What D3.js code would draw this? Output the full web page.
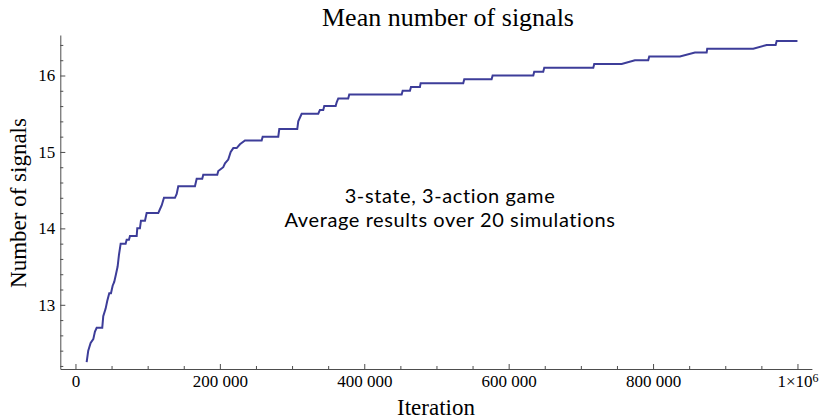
<!DOCTYPE html>
<html>
<head>
<meta charset="utf-8">
<script src="https://cdn.jsdelivr.net/npm/d3@7"></script>
<style>
  html, body { margin: 0; padding: 0; background: #fff; }
  svg { display: block; }
</style>
</head>
<body>
<svg id="chart" width="824" height="420"></svg>
<script>
// Mean number of signals (averaged over 20 runs) at each iteration
const iterations = [
  15500, 17700, 21000, 24700, 27000, 29400, 37100, 38500, 41800, 44000,
  46800, 49200, 51500, 53700, 56100, 58400, 60200, 62600, 69500, 70900,
  74100, 75500, 84800, 85600, 89300, 90700, 96300, 98600, 114700, 117000,
  119400, 122600, 137800, 140200, 142400, 165500, 167900, 175600, 177000, 196400,
  197800, 204700, 207100, 211600, 215000, 218600, 223300, 227800, 234800, 257900,
  259300, 280900, 282300, 307200, 308600, 313300, 336300, 338600, 343200, 344600,
  360400, 361800, 364000, 377800, 379200, 451800, 453200, 463300, 464700, 477100,
  478100, 537100, 538500, 576400, 577800, 634100, 635400, 647900, 649300, 717200,
  718500, 756500, 774900, 793300, 794700, 837200, 858000, 874200, 875000, 938800,
  957300, 969800, 971200, 1000000
];
const meanSignals = [
  12.25, 12.40, 12.50, 12.55, 12.65, 12.70, 12.70, 12.85, 12.95, 13.05,
  13.15, 13.15, 13.25, 13.30, 13.40, 13.50, 13.65, 13.80, 13.80, 13.85,
  13.85, 13.90, 13.90, 14.00, 14.00, 14.10, 14.10, 14.20, 14.20, 14.25,
  14.30, 14.40, 14.40, 14.45, 14.55, 14.55, 14.65, 14.65, 14.70, 14.70,
  14.75, 14.80, 14.85, 14.90, 15.00, 15.05, 15.05, 15.10, 15.15, 15.15,
  15.20, 15.20, 15.30, 15.30, 15.40, 15.50, 15.50, 15.55, 15.55, 15.60,
  15.60, 15.65, 15.70, 15.70, 15.75, 15.75, 15.80, 15.80, 15.85, 15.85,
  15.90, 15.90, 15.95, 15.95, 16.00, 16.00, 16.05, 16.05, 16.10, 16.10,
  16.15, 16.15, 16.20, 16.20, 16.25, 16.25, 16.30, 16.30, 16.35, 16.35,
  16.40, 16.40, 16.45, 16.45
];

const xMajorTicks = [0, 200000, 400000, 600000, 800000, 1000000];
const xMinorTicks = [50000, 100000, 150000, 250000, 300000, 350000, 450000, 500000,
  550000, 650000, 700000, 750000, 850000, 900000, 950000];
const yMajorTicks = [13, 14, 15, 16];
const yMinorTicks = [12.2, 12.4, 12.6, 12.8, 13.2, 13.4, 13.6, 13.8, 14.2, 14.4,
  14.6, 14.8, 15.2, 15.4, 15.6, 15.8, 16.2, 16.4];

const titleText = "Mean number of signals";
const xLabelText = "Iteration";
const yLabelText = "Number of signals";
const noteLines = ["3-state, 3-action game", "Average results over 20 simulations"];

const svg = d3.select("#chart");
const axisColor = "#4d4d4d";
const lineColor = "#3d3d99";
const serif = "'Liberation Serif', 'Times New Roman', serif";

const x = d3.scaleLinear().domain([-21000, 1020000]).range([60.3, 811.9]);
const y = d3.scaleLinear().domain([12.16, 16.53]).range([369, 35]);

// tick labels: digit groups separated by a space, 10^6 written in powers
function xLabel(sel) {
  sel.each(function(d) {
    const t = d3.select(this);
    if (d === 1000000) {
      t.text("");
      t.append("tspan").text("1\u00d710");
      t.append("tspan").attr("dy", "-0.45em").attr("font-size", "12px").text("6");
    } else {
      t.text(d3.format(",")(d).replace(/,/g, " "));
    }
  });
}

// x axis
const gx = svg.append("g").attr("transform", `translate(0,${y.range()[0]})`);
gx.append("g")
  .call(d3.axisBottom(x).tickValues(xMinorTicks).tickSize(-3).tickSizeOuter(0).tickFormat(""))
  .call(g => g.select(".domain").remove());
gx.append("g")
  .call(d3.axisBottom(x).tickValues(xMajorTicks).tickSize(-5).tickSizeOuter(0).tickPadding(6))
  .call(g => g.selectAll("text").call(xLabel));

// y axis
const gy = svg.append("g").attr("transform", `translate(${x.range()[0]},0)`);
gy.append("g")
  .call(d3.axisLeft(y).tickValues(yMinorTicks).tickSize(-3).tickSizeOuter(0).tickFormat(""))
  .call(g => g.select(".domain").remove());
gy.append("g")
  .call(d3.axisLeft(y).tickValues(yMajorTicks).tickSize(-5).tickSizeOuter(0).tickPadding(5)
    .tickFormat(d3.format("d")));

svg.selectAll(".domain, .tick line").attr("stroke", axisColor);
svg.selectAll(".tick text").attr("font-family", serif).attr("font-size", 17).attr("fill", "#000");

// the curve
const line = d3.line()
  .x((d, i) => x(iterations[i]))
  .y(d => y(d));
svg.append("path")
  .datum(meanSignals)
  .attr("fill", "none")
  .attr("stroke", lineColor)
  .attr("stroke-width", 2)
  .attr("stroke-linejoin", "miter")
  .attr("d", line);

// title and axis labels
svg.append("text")
  .attr("x", 448).attr("y", 26)
  .attr("text-anchor", "middle")
  .attr("font-family", serif).attr("font-size", 26)
  .text(titleText);

svg.append("text")
  .attr("x", 436).attr("y", 415)
  .attr("text-anchor", "middle")
  .attr("font-family", serif).attr("font-size", 23)
  .text(xLabelText);

svg.append("text")
  .attr("transform", "translate(26,203) rotate(-90)")
  .attr("text-anchor", "middle")
  .attr("font-family", serif).attr("font-size", 23)
  .text(yLabelText);

// annotation
svg.append("g")
  .attr("font-family", "Lato, 'Open Sans', sans-serif")
  .attr("font-size", 20)
  .attr("letter-spacing", 0.6)
  .attr("text-anchor", "middle")
  .selectAll("text")
  .data(noteLines)
  .join("text")
  .attr("x", 450)
  .attr("y", (d, i) => 203 + i * 24)
  .text(d => d);
</script>
</body>
</html>
